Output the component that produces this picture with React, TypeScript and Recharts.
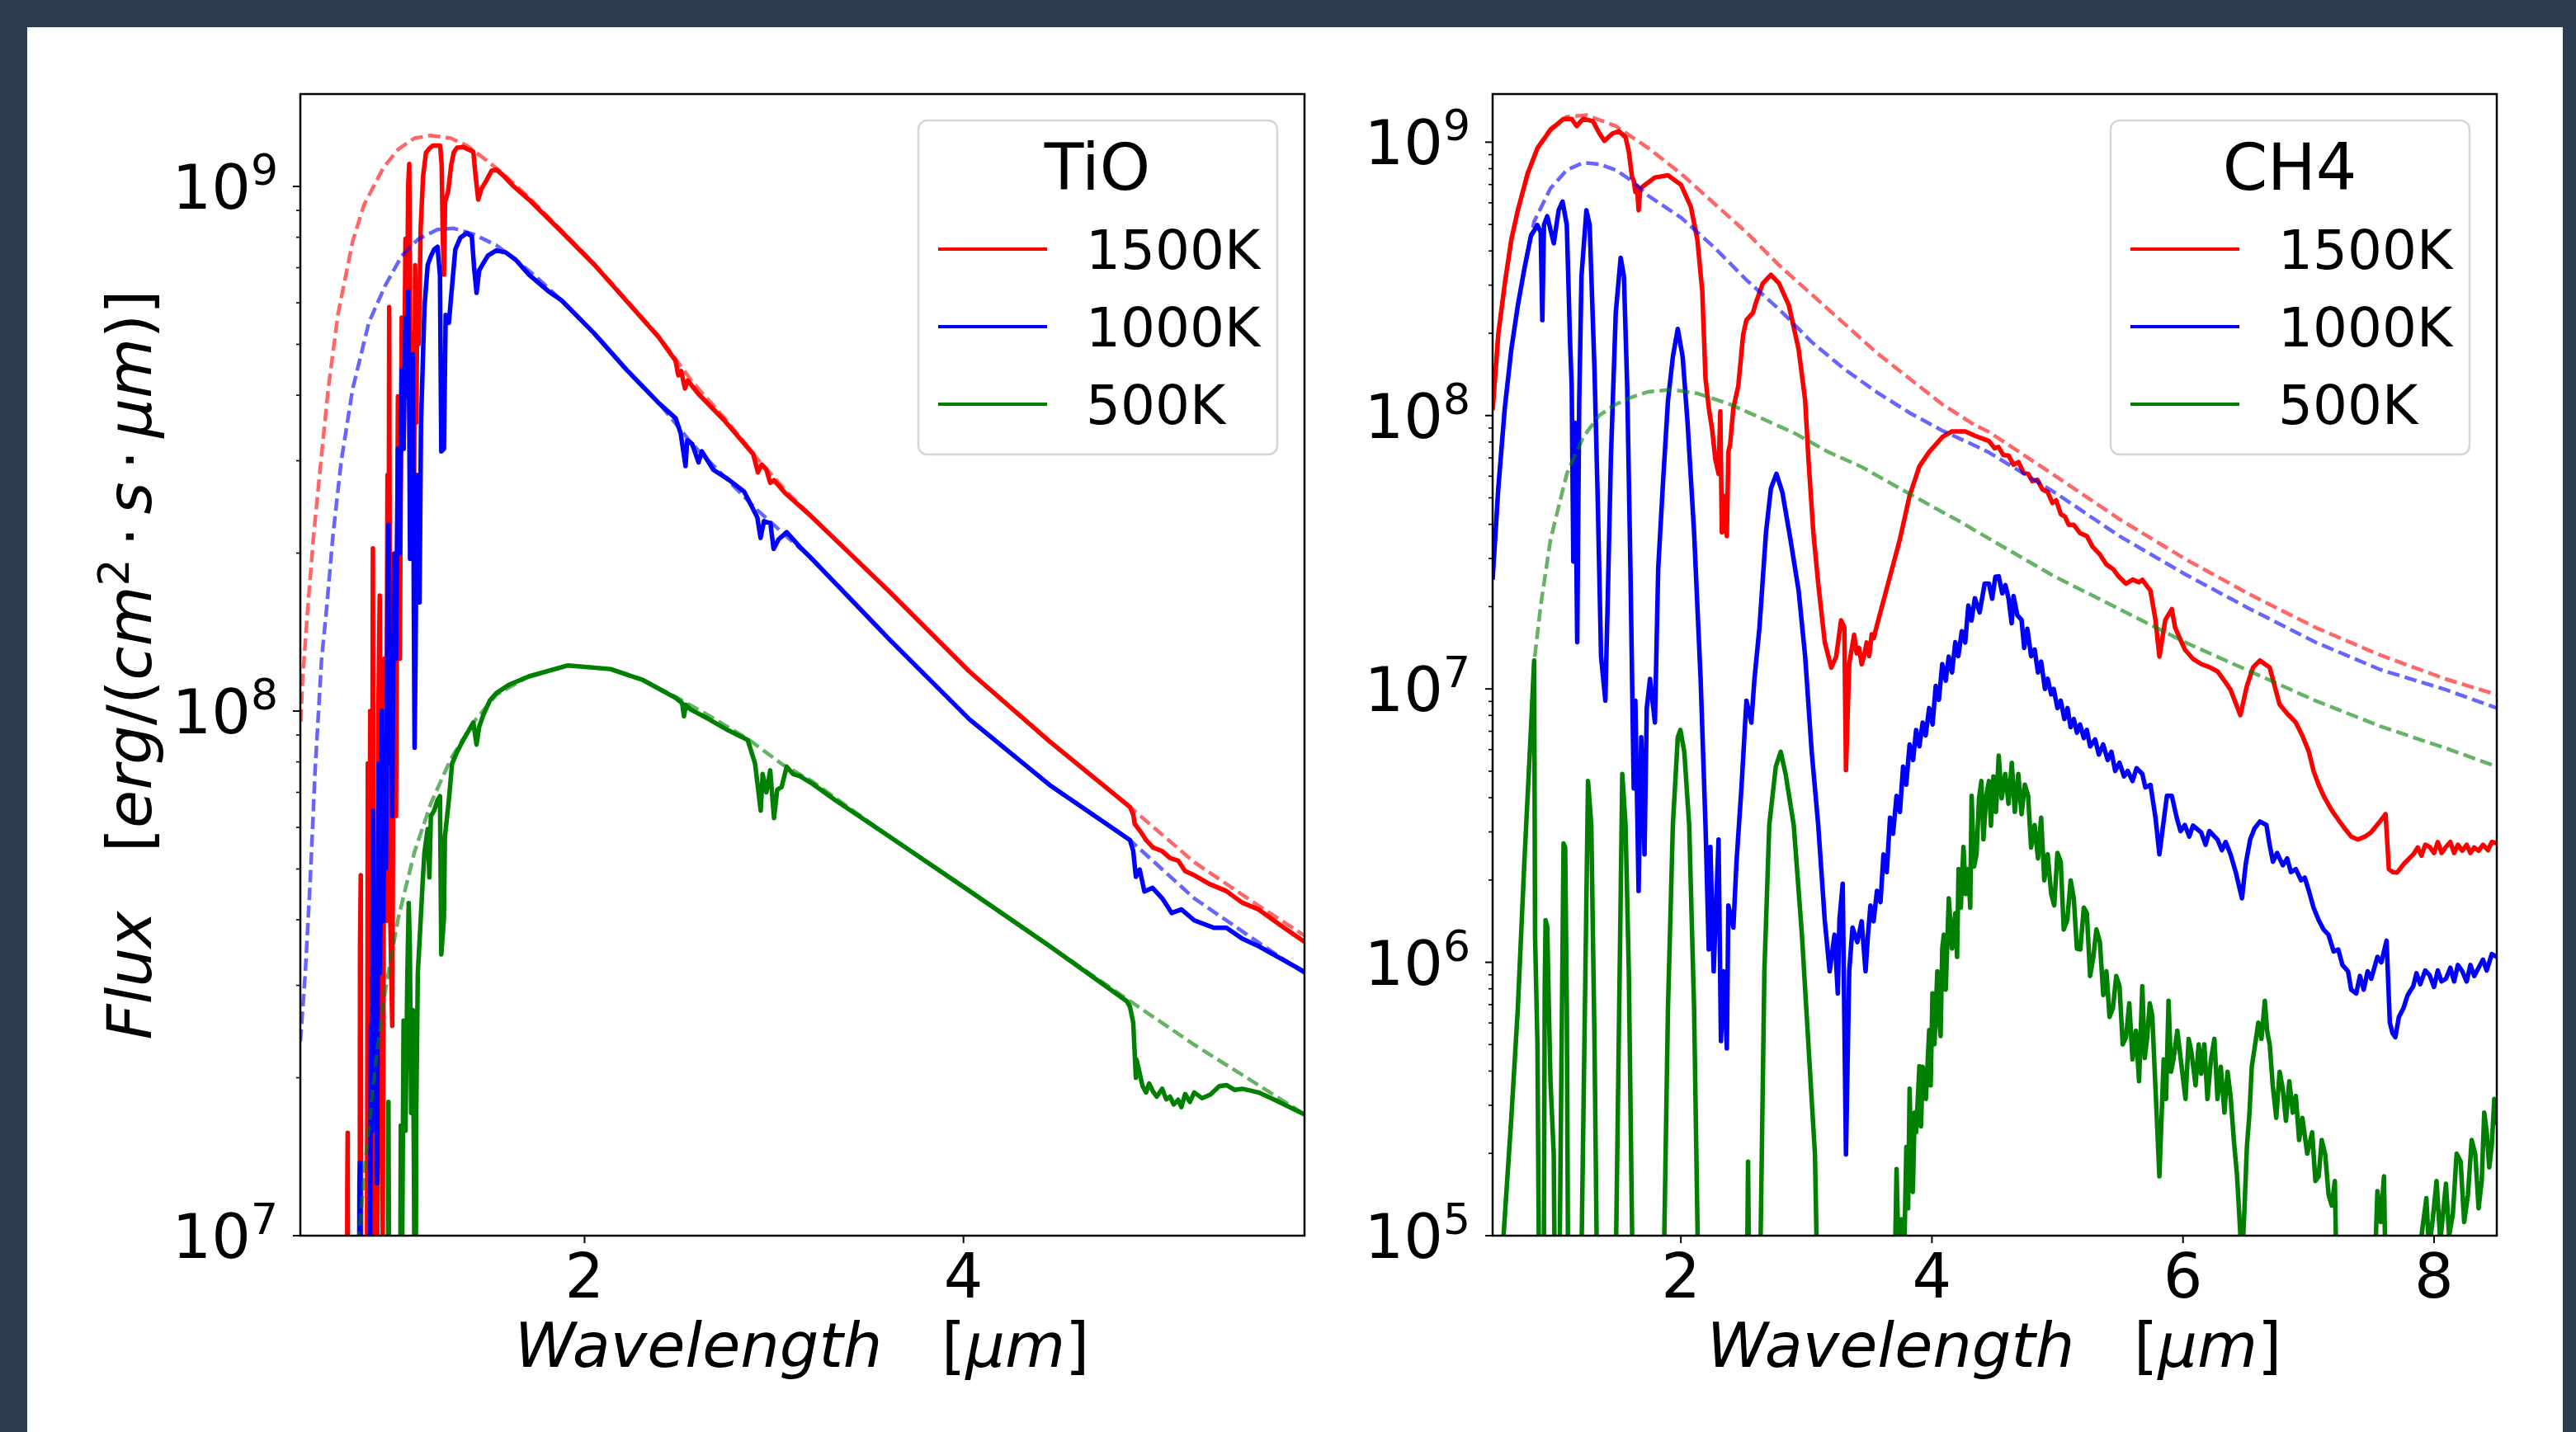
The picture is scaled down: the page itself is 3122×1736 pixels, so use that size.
import { LineChart, Line, XAxis, YAxis } from 'recharts';

// every point is [wavelength in µm, log10 of the flux]
type Pt = [number, number];

const FONT = '"DejaVu Sans", sans-serif';
const TEMPS = ['1500K', '1000K', '500K'];
const COLORS = ['#ff0000', '#0000ff', '#008000'];

// ---------- TiO panel ----------
const tioSpec1500: Pt[] = [
  [0.744, 6.5], [0.748, 7.1], [0.75, 7.196], [0.753, 6.5],
  [0.812, 6.5], [0.815, 7.55], [0.819, 7.687], [0.822, 6.5],
  [0.85, 6.5], [0.856, 7.9], [0.862, 7.4], [0.869, 8.0], [0.876, 7.1], [0.883, 8.31], [0.889, 6.9],
  [0.905, 6.8], [0.912, 8.0], [0.919, 8.22], [0.926, 7.3],
  [0.935, 7.0], [0.944, 8.1], [0.952, 7.6], [0.96, 8.45], [0.965, 7.9], [0.969, 8.77], [0.975, 7.6],
  [0.985, 7.4], [0.995, 8.3], [1.005, 7.8], [1.015, 8.6], [1.025, 8.1], [1.035, 8.75], [1.045, 8.5],
  [1.055, 8.9], [1.062, 8.65], [1.069, 9.0], [1.075, 9.043], [1.081, 8.6],
  [1.088, 8.3], [1.094, 8.72], [1.1, 8.4], [1.106, 8.85], [1.112, 8.55], [1.118, 8.8], [1.125, 8.7],
  [1.135, 8.92], [1.148, 9.02], [1.163, 9.064], [1.18, 9.072], [1.2, 9.078], [1.238, 9.078],
  [1.246, 9.04], [1.252, 8.9], [1.258, 8.832], [1.264, 8.97], [1.28, 8.99], [1.296, 9.04], [1.31, 9.065],
  [1.327, 9.074], [1.36, 9.075], [1.39, 9.07], [1.413, 9.066], [1.425, 9.02], [1.439, 8.975],
  [1.455, 8.995], [1.48, 9.01], [1.51, 9.03], [1.534, 9.032], [1.568, 9.022], [1.62, 9.002],
  [1.706, 8.975], [1.878, 8.914], [2.051, 8.851], [2.223, 8.781], [2.395, 8.711], [2.48, 8.668],
  [2.495, 8.64], [2.51, 8.648], [2.53, 8.615], [2.545, 8.63], [2.6, 8.605], [2.74, 8.553],
  [2.89, 8.49], [2.915, 8.455], [2.935, 8.47], [2.96, 8.46], [2.98, 8.435], [3.0, 8.44], [3.06, 8.415],
  [3.2, 8.37], [3.608, 8.228], [4.032, 8.075], [4.455, 7.942], [4.879, 7.817], [4.896, 7.803],
  [4.904, 7.785], [4.935, 7.77], [4.964, 7.754], [5.0, 7.74], [5.049, 7.733], [5.09, 7.72],
  [5.133, 7.715], [5.17, 7.695], [5.218, 7.687], [5.3, 7.67], [5.387, 7.657], [5.47, 7.635],
  [5.557, 7.622], [5.68, 7.59], [5.8, 7.56],
];
const tioBb1500: Pt[] = [
  [0.502, 7.98], [0.512, 8.06], [0.538, 8.19], [0.569, 8.33], [0.607, 8.47], [0.646, 8.61],
  [0.698, 8.755], [0.776, 8.895], [0.836, 8.965], [0.939, 9.036], [1.017, 9.071], [1.103, 9.092],
  [1.189, 9.097], [1.293, 9.092], [1.379, 9.078], [1.482, 9.05], [1.568, 9.025], [1.706, 8.979],
  [1.878, 8.916], [2.051, 8.853], [2.223, 8.783], [2.395, 8.713], [2.568, 8.628], [2.74, 8.558],
  [2.912, 8.481], [3.085, 8.411], [3.202, 8.37], [3.608, 8.228], [4.032, 8.075], [4.455, 7.942],
  [4.879, 7.817], [5.218, 7.712], [5.557, 7.629], [5.8, 7.572],
];
const tioSpec1000: Pt[] = [
  [0.808, 6.5], [0.812, 7.1], [0.815, 7.139], [0.818, 6.5],
  [0.865, 6.5], [0.872, 7.4], [0.878, 7.2], [0.883, 7.81], [0.89, 7.3], [0.898, 7.6], [0.905, 7.1],
  [0.912, 7.9], [0.92, 7.5], [0.93, 8.0], [0.938, 7.6], [0.945, 7.95], [0.952, 7.7], [0.96, 8.2],
  [0.965, 8.355], [0.97, 7.9], [0.978, 8.1], [0.985, 7.8], [0.995, 8.3], [1.005, 8.1], [1.015, 8.5],
  [1.025, 8.3], [1.035, 8.65], [1.045, 8.5], [1.055, 8.75], [1.062, 8.6], [1.069, 8.8], [1.075, 8.55],
  [1.079, 8.29], [1.085, 8.5], [1.094, 8.68], [1.099, 8.2], [1.103, 7.93], [1.108, 8.1], [1.115, 8.45],
  [1.122, 8.3], [1.129, 8.207], [1.137, 8.55], [1.155, 8.769], [1.172, 8.85], [1.189, 8.867],
  [1.206, 8.88], [1.224, 8.885], [1.237, 8.83], [1.244, 8.495], [1.258, 8.5], [1.267, 8.755],
  [1.284, 8.74], [1.301, 8.811], [1.318, 8.88], [1.344, 8.902], [1.379, 8.911], [1.405, 8.905],
  [1.417, 8.846], [1.43, 8.797], [1.444, 8.84], [1.465, 8.853], [1.49, 8.868], [1.534, 8.878],
  [1.585, 8.874], [1.637, 8.86], [1.706, 8.832], [1.81, 8.8], [1.878, 8.783], [2.051, 8.72],
  [2.223, 8.65], [2.395, 8.586], [2.481, 8.558], [2.507, 8.53], [2.533, 8.467], [2.542, 8.516],
  [2.568, 8.509], [2.602, 8.474], [2.619, 8.495], [2.68, 8.46], [2.757, 8.442], [2.843, 8.418],
  [2.912, 8.369], [2.929, 8.33], [2.947, 8.362], [2.981, 8.358], [2.998, 8.309], [3.024, 8.327],
  [3.067, 8.341], [3.136, 8.313], [3.2, 8.29], [3.608, 8.137], [4.032, 7.984], [4.455, 7.859],
  [4.794, 7.775], [4.879, 7.754], [4.896, 7.733], [4.91, 7.684], [4.93, 7.698], [4.955, 7.656],
  [4.998, 7.663], [5.049, 7.643], [5.099, 7.615], [5.15, 7.622], [5.218, 7.601], [5.32, 7.587],
  [5.388, 7.587], [5.472, 7.566], [5.557, 7.552], [5.8, 7.503],
];
const tioBb1000: Pt[] = [
  [0.5, 7.37], [0.51, 7.42], [0.526, 7.5], [0.552, 7.676], [0.578, 7.887], [0.612, 8.098],
  [0.638, 8.193], [0.672, 8.334], [0.715, 8.474], [0.776, 8.614], [0.862, 8.741], [0.948, 8.811],
  [1.034, 8.867], [1.12, 8.899], [1.224, 8.918], [1.31, 8.92], [1.413, 8.909], [1.534, 8.888],
  [1.637, 8.86], [1.741, 8.829], [1.878, 8.783], [2.051, 8.72], [2.223, 8.65], [2.395, 8.586],
  [2.568, 8.509], [2.74, 8.446], [2.912, 8.383], [3.085, 8.327], [3.202, 8.29], [3.608, 8.137],
  [4.032, 7.984], [4.455, 7.859], [4.879, 7.754], [5.218, 7.643], [5.557, 7.559], [5.8, 7.5],
];
const tioSpec500: Pt[] = [
  [0.96, 6.5], [0.965, 7.255], [0.972, 6.5], [1.025, 6.5], [1.03, 7.21], [1.038, 7.0], [1.045, 7.41],
  [1.055, 7.2], [1.065, 7.5], [1.072, 7.634], [1.078, 7.55], [1.085, 7.234], [1.094, 7.43], [1.1, 7.1],
  [1.106, 6.5], [1.112, 7.24], [1.12, 7.5], [1.129, 7.56], [1.146, 7.676], [1.155, 7.73], [1.172, 7.775],
  [1.181, 7.683], [1.189, 7.8], [1.206, 7.81], [1.224, 7.83], [1.237, 7.838], [1.244, 7.536],
  [1.258, 7.606], [1.263, 7.76], [1.284, 7.831], [1.301, 7.9], [1.327, 7.922], [1.362, 7.946],
  [1.413, 7.978], [1.43, 7.936], [1.444, 7.97], [1.465, 7.992], [1.5, 8.02], [1.534, 8.034],
  [1.6, 8.05], [1.706, 8.066], [1.913, 8.087], [2.137, 8.08], [2.309, 8.059], [2.481, 8.025],
  [2.515, 8.015], [2.525, 7.99], [2.535, 8.012], [2.56, 8.003], [2.654, 7.985], [2.76, 7.963],
  [2.861, 7.945], [2.9, 7.9], [2.93, 7.81], [2.94, 7.88], [2.96, 7.845], [2.98, 7.887], [3.0, 7.796],
  [3.017, 7.85], [3.04, 7.855], [3.067, 7.894], [3.1, 7.88], [3.136, 7.876], [3.2, 7.862],
  [3.32, 7.831], [3.608, 7.761], [4.032, 7.657], [4.455, 7.552], [4.862, 7.447], [4.879, 7.436],
  [4.896, 7.406], [4.91, 7.301], [4.913, 7.336], [4.93, 7.31], [4.945, 7.285], [4.964, 7.273],
  [4.98, 7.29], [5.0, 7.275], [5.02, 7.265], [5.049, 7.28], [5.07, 7.26], [5.09, 7.265],
  [5.11, 7.25], [5.133, 7.259], [5.15, 7.245], [5.17, 7.27], [5.195, 7.255], [5.218, 7.273],
  [5.26, 7.262], [5.303, 7.269], [5.35, 7.285], [5.388, 7.287], [5.43, 7.278], [5.472, 7.28],
  [5.557, 7.273], [5.642, 7.259], [5.8, 7.231],
];
const tioBb500: Pt[] = [
  [0.79, 6.85], [0.81, 7.002], [0.845, 7.15], [0.896, 7.325], [0.948, 7.466], [1.017, 7.606],
  [1.103, 7.732], [1.189, 7.824], [1.293, 7.908], [1.413, 7.978], [1.534, 8.031], [1.706, 8.066],
  [1.913, 8.087], [2.137, 8.08], [2.309, 8.059], [2.481, 8.027], [2.654, 7.992], [2.861, 7.947],
  [3.05, 7.897], [3.202, 7.866], [3.608, 7.761], [4.032, 7.657], [4.455, 7.552], [4.879, 7.447],
  [5.218, 7.364], [5.557, 7.287], [5.8, 7.231],
];

// ---------- CH4 panel ----------
const ch4Spec1500: Pt[] = [
  [0.5, 8.02], [0.545, 8.296], [0.597, 8.483], [0.649, 8.644], [0.701, 8.751], [0.779, 8.885],
  [0.857, 8.978], [0.961, 9.045], [1.065, 9.085], [1.13, 9.085], [1.169, 9.059], [1.221, 9.085],
  [1.299, 9.077], [1.351, 9.032], [1.39, 9.005], [1.455, 9.032], [1.507, 9.04], [1.559, 9.018],
  [1.585, 8.965], [1.611, 8.871], [1.624, 8.86], [1.637, 8.818], [1.65, 8.84], [1.663, 8.751],
  [1.676, 8.831], [1.715, 8.844], [1.793, 8.871], [1.897, 8.879], [2.001, 8.844], [2.079, 8.764],
  [2.131, 8.644], [2.17, 8.456], [2.196, 8.135], [2.222, 8.028], [2.249, 7.948], [2.274, 7.841],
  [2.3, 7.787], [2.314, 8.015], [2.326, 7.573], [2.34, 7.707], [2.353, 7.6], [2.366, 7.559],
  [2.378, 7.867], [2.392, 7.894], [2.418, 8.028], [2.457, 8.108], [2.496, 8.296], [2.522, 8.349],
  [2.574, 8.376], [2.6, 8.416], [2.652, 8.483], [2.717, 8.515], [2.782, 8.483], [2.86, 8.403],
  [2.938, 8.242], [2.99, 8.055], [3.016, 7.841], [3.055, 7.573], [3.094, 7.385], [3.146, 7.171],
  [3.198, 7.078], [3.237, 7.118], [3.276, 7.251], [3.302, 7.225], [3.315, 6.703], [3.328, 6.9],
  [3.341, 7.091], [3.38, 7.198], [3.4, 7.13], [3.42, 7.15], [3.44, 7.09], [3.458, 7.118],
  [3.48, 7.17], [3.5, 7.12], [3.52, 7.2], [3.536, 7.185], [3.56, 7.23], [3.588, 7.278],
  [3.666, 7.412], [3.744, 7.546], [3.822, 7.707], [3.9, 7.814], [3.978, 7.867], [4.082, 7.921],
  [4.16, 7.942], [4.264, 7.942], [4.342, 7.926], [4.454, 7.907], [4.5, 7.88], [4.53, 7.885],
  [4.57, 7.855], [4.61, 7.854], [4.65, 7.82], [4.69, 7.83], [4.73, 7.79], [4.766, 7.787],
  [4.8, 7.76], [4.84, 7.765], [4.88, 7.73], [4.922, 7.72], [4.96, 7.68], [4.99, 7.69],
  [5.026, 7.64], [5.06, 7.63], [5.09, 7.6], [5.13, 7.6], [5.18, 7.57], [5.234, 7.559],
  [5.28, 7.52], [5.338, 7.492], [5.39, 7.455], [5.442, 7.439], [5.49, 7.41], [5.546, 7.385],
  [5.6, 7.4], [5.65, 7.39], [5.676, 7.399], [5.741, 7.359], [5.781, 7.252], [5.812, 7.118],
  [5.859, 7.252], [5.911, 7.292], [5.937, 7.225], [5.97, 7.19], [6.015, 7.144], [6.08, 7.11],
  [6.145, 7.091], [6.21, 7.08], [6.275, 7.064], [6.33, 7.03], [6.379, 6.997], [6.457, 6.904],
  [6.509, 7.011], [6.56, 7.08], [6.613, 7.104], [6.691, 7.078], [6.769, 6.944], [6.83, 6.91],
  [6.899, 6.877], [6.95, 6.83], [7.003, 6.77], [7.04, 6.7], [7.081, 6.649], [7.13, 6.6],
  [7.185, 6.556], [7.24, 6.52], [7.289, 6.489], [7.34, 6.46], [7.393, 6.449], [7.45, 6.46],
  [7.497, 6.475], [7.56, 6.51], [7.614, 6.542], [7.64, 6.341], [7.67, 6.33], [7.705, 6.328],
  [7.76, 6.36], [7.835, 6.395], [7.87, 6.42], [7.9, 6.39], [7.93, 6.43], [7.965, 6.422],
  [8.0, 6.4], [8.03, 6.44], [8.06, 6.4], [8.095, 6.422], [8.13, 6.44], [8.16, 6.4], [8.19, 6.43],
  [8.225, 6.408], [8.26, 6.43], [8.29, 6.4], [8.32, 6.42], [8.355, 6.408], [8.39, 6.43],
  [8.43, 6.41], [8.46, 6.44], [8.5, 6.435],
];
const ch4Bb1500: Pt[] = [
  [0.5, 8.02], [0.545, 8.3], [0.597, 8.48], [0.649, 8.64], [0.701, 8.755], [0.779, 8.89],
  [0.857, 8.98], [0.961, 9.05], [1.091, 9.093], [1.247, 9.099], [1.481, 9.059], [1.741, 8.978],
  [2.001, 8.885], [2.262, 8.777], [2.522, 8.67], [2.782, 8.55], [3.042, 8.443], [3.302, 8.336],
  [3.562, 8.229], [3.822, 8.135], [4.082, 8.041], [4.342, 7.965], [4.454, 7.94], [4.974, 7.782],
  [5.494, 7.621], [6.015, 7.476], [6.535, 7.345], [7.055, 7.225], [7.575, 7.123], [8.095, 7.036],
  [8.5, 6.979],
];
const ch4Spec1000: Pt[] = [
  [0.5, 7.4], [0.545, 7.733], [0.597, 8.028], [0.649, 8.242], [0.701, 8.403], [0.753, 8.537],
  [0.805, 8.657], [0.857, 8.697], [0.883, 8.67], [0.896, 8.349], [0.909, 8.697], [0.935, 8.729],
  [0.987, 8.63], [1.026, 8.751], [1.057, 8.783], [1.091, 8.697], [1.117, 8.269], [1.13, 8.108],
  [1.143, 7.466], [1.156, 7.974], [1.174, 7.171], [1.19, 8.055], [1.208, 8.51], [1.247, 8.751],
  [1.273, 8.697], [1.312, 8.162], [1.338, 7.68], [1.364, 7.118], [1.398, 6.957], [1.416, 7.305],
  [1.442, 7.841], [1.481, 8.376], [1.52, 8.577], [1.546, 8.51], [1.572, 8.108], [1.598, 7.439],
  [1.624, 6.636], [1.637, 6.957], [1.663, 6.261], [1.684, 6.823], [1.71, 6.395], [1.728, 6.93],
  [1.754, 7.037], [1.793, 6.877], [1.819, 7.439], [1.858, 7.76], [1.897, 8.055], [1.936, 8.215],
  [1.975, 8.317], [2.014, 8.215], [2.053, 7.974], [2.105, 7.573], [2.157, 7.037], [2.196, 6.502],
  [2.222, 6.047], [2.235, 6.422], [2.261, 5.967], [2.3, 6.449], [2.319, 5.712], [2.34, 5.967],
  [2.366, 5.685], [2.378, 6.208], [2.418, 6.127], [2.443, 6.368], [2.482, 6.636], [2.522, 6.957],
  [2.561, 6.877], [2.586, 7.037], [2.626, 7.225], [2.678, 7.573], [2.717, 7.733], [2.761, 7.787],
  [2.808, 7.72], [2.873, 7.546], [2.938, 7.359], [2.99, 7.118], [3.042, 6.77], [3.094, 6.502],
  [3.146, 6.154], [3.185, 5.967], [3.224, 6.101], [3.25, 5.886], [3.263, 6.154], [3.289, 6.288],
  [3.315, 5.297], [3.341, 5.967], [3.367, 6.127], [3.406, 6.074], [3.44, 6.15], [3.471, 5.967],
  [3.49, 6.1], [3.51, 6.208], [3.535, 6.15], [3.562, 6.261], [3.59, 6.22], [3.614, 6.395],
  [3.64, 6.33], [3.666, 6.529], [3.69, 6.47], [3.718, 6.609], [3.745, 6.55], [3.77, 6.716],
  [3.795, 6.65], [3.822, 6.797], [3.85, 6.74], [3.874, 6.85], [3.9, 6.79], [3.926, 6.877],
  [3.95, 6.83], [3.978, 6.93], [4.005, 6.87], [4.03, 7.011], [4.055, 6.96], [4.082, 7.091],
  [4.11, 7.03], [4.134, 7.118], [4.16, 7.06], [4.186, 7.171], [4.21, 7.12], [4.238, 7.211],
  [4.265, 7.17], [4.29, 7.305], [4.315, 7.25], [4.342, 7.332], [4.38, 7.28], [4.42, 7.385],
  [4.454, 7.385], [4.48, 7.33], [4.505, 7.41], [4.532, 7.412], [4.56, 7.35], [4.585, 7.38],
  [4.61, 7.332], [4.635, 7.24], [4.65, 7.34], [4.68, 7.27], [4.714, 7.252], [4.735, 7.15],
  [4.76, 7.22], [4.79, 7.12], [4.818, 7.144], [4.845, 7.06], [4.87, 7.1], [4.9, 7.0],
  [4.922, 7.037], [4.95, 6.98], [4.97, 7.0], [5.0, 6.93], [5.026, 6.957], [5.055, 6.89],
  [5.08, 6.93], [5.105, 6.86], [5.13, 6.89], [5.155, 6.84], [5.18, 6.87], [5.21, 6.82],
  [5.234, 6.85], [5.26, 6.79], [5.3, 6.815], [5.33, 6.76], [5.364, 6.797], [5.4, 6.74],
  [5.43, 6.77], [5.46, 6.7], [5.494, 6.73], [5.53, 6.68], [5.56, 6.7], [5.598, 6.663],
  [5.63, 6.71], [5.676, 6.689], [5.7, 6.64], [5.741, 6.649], [5.781, 6.529], [5.812, 6.395],
  [5.872, 6.609], [5.911, 6.609], [5.95, 6.529], [5.98, 6.48], [6.015, 6.502], [6.05, 6.46],
  [6.08, 6.5], [6.145, 6.475], [6.18, 6.43], [6.21, 6.48], [6.275, 6.449], [6.31, 6.41],
  [6.34, 6.44], [6.379, 6.395], [6.42, 6.33], [6.47, 6.234], [6.5, 6.36], [6.535, 6.449],
  [6.57, 6.49], [6.613, 6.515], [6.665, 6.502], [6.69, 6.43], [6.717, 6.368], [6.75, 6.4],
  [6.795, 6.355], [6.83, 6.38], [6.86, 6.33], [6.899, 6.341], [6.94, 6.3], [6.97, 6.31],
  [7.003, 6.261], [7.04, 6.2], [7.081, 6.154], [7.12, 6.12], [7.159, 6.101], [7.2, 6.04],
  [7.237, 6.047], [7.27, 5.99], [7.315, 5.967], [7.34, 5.9], [7.38, 5.886], [7.41, 5.95],
  [7.44, 5.9], [7.471, 5.967], [7.5, 5.94], [7.549, 6.02], [7.58, 6.0], [7.622, 6.079],
  [7.648, 5.779], [7.67, 5.74], [7.692, 5.726], [7.72, 5.8], [7.757, 5.833], [7.79, 5.88],
  [7.835, 5.913], [7.86, 5.96], [7.89, 5.92], [7.93, 5.97], [7.965, 5.953], [8.0, 5.91],
  [8.03, 5.97], [8.06, 5.93], [8.095, 5.94], [8.13, 5.98], [8.16, 5.93], [8.19, 5.99],
  [8.225, 5.967], [8.26, 5.93], [8.29, 5.99], [8.32, 5.95], [8.355, 5.98], [8.39, 6.01],
  [8.42, 5.97], [8.46, 6.03], [8.5, 6.02],
];
const ch4Bb1000: Pt[] = [
  [0.5, 7.4], [0.545, 7.733], [0.597, 8.028], [0.649, 8.242], [0.701, 8.403], [0.753, 8.537],
  [0.805, 8.657], [0.831, 8.71], [0.961, 8.831], [1.091, 8.898], [1.221, 8.925], [1.351, 8.919],
  [1.481, 8.898], [1.611, 8.858], [1.741, 8.804], [2.001, 8.724], [2.262, 8.617], [2.522, 8.496],
  [2.782, 8.389], [3.042, 8.269], [3.302, 8.17], [3.562, 8.085], [3.822, 8.01], [4.082, 7.945],
  [4.342, 7.89], [4.454, 7.865], [4.974, 7.72], [5.494, 7.559], [6.015, 7.42], [6.535, 7.292],
  [7.055, 7.171], [7.575, 7.07], [8.095, 6.997], [8.5, 6.93],
];
const ch4Spec500: Pt[] = [
  [0.55, 4.5], [0.584, 4.98], [0.649, 5.431], [0.701, 5.833], [0.753, 6.368], [0.805, 6.85],
  [0.831, 7.104], [0.838, 6.1], [0.857, 5.699], [0.875, 4.5],
  [0.905, 4.5], [0.915, 5.9], [0.922, 6.154], [0.935, 6.13], [0.948, 5.833], [0.961, 5.565],
  [0.987, 5.297], [1.0, 4.5],
  [1.025, 4.5], [1.065, 6.435], [1.078, 6.42], [1.091, 5.833], [1.105, 4.5],
  [1.195, 4.5], [1.26, 6.663], [1.286, 6.502], [1.312, 5.699], [1.34, 4.5],
  [1.47, 4.5], [1.533, 6.689], [1.559, 6.502], [1.585, 5.967], [1.625, 4.5],
  [1.85, 4.5], [1.897, 5.833], [1.936, 6.502], [1.975, 6.823], [1.996, 6.85], [2.027, 6.77],
  [2.066, 6.502], [2.105, 5.833], [2.15, 4.5],
  [2.52, 4.5], [2.535, 5.271], [2.55, 4.5],
  [2.62, 4.5], [2.665, 5.967], [2.704, 6.502], [2.756, 6.716], [2.795, 6.77], [2.834, 6.689],
  [2.899, 6.502], [2.964, 6.101], [3.016, 5.699], [3.068, 5.297], [3.1, 4.5],
  [3.69, 4.5], [3.718, 5.244], [3.735, 4.9], [3.757, 5.06], [3.78, 4.95], [3.796, 5.324],
  [3.81, 5.1], [3.822, 5.538], [3.835, 5.25], [3.848, 5.16], [3.862, 5.45], [3.874, 5.378],
  [3.9, 5.62], [3.913, 5.4], [3.926, 5.618], [3.952, 5.5], [3.978, 5.752], [3.99, 5.55],
  [4.004, 5.886], [4.02, 5.7], [4.043, 5.967], [4.056, 5.8], [4.069, 5.73], [4.082, 6.05],
  [4.095, 6.101], [4.11, 5.9], [4.134, 6.234], [4.16, 6.05], [4.186, 6.18], [4.2, 6.02],
  [4.212, 6.341], [4.23, 6.2], [4.251, 6.422], [4.27, 6.25], [4.29, 6.341], [4.305, 6.2],
  [4.316, 6.609], [4.335, 6.35], [4.355, 6.395], [4.375, 6.6], [4.394, 6.663], [4.41, 6.45],
  [4.433, 6.609], [4.454, 6.663], [4.47, 6.5], [4.49, 6.68], [4.51, 6.55], [4.532, 6.756],
  [4.555, 6.6], [4.584, 6.689], [4.61, 6.58], [4.636, 6.73], [4.66, 6.55], [4.688, 6.689],
  [4.714, 6.542], [4.74, 6.65], [4.766, 6.609], [4.79, 6.42], [4.818, 6.502], [4.845, 6.38],
  [4.87, 6.529], [4.895, 6.3], [4.922, 6.395], [4.95, 6.25], [4.974, 6.208], [5.0, 6.4],
  [5.026, 6.368], [5.05, 6.12], [5.078, 6.154], [5.105, 6.3], [5.13, 6.234], [5.155, 6.05],
  [5.182, 6.047], [5.21, 6.2], [5.234, 6.18], [5.26, 5.95], [5.286, 6.02], [5.31, 6.12],
  [5.338, 6.074], [5.365, 5.88], [5.39, 5.967], [5.415, 5.8], [5.442, 5.833], [5.468, 5.95],
  [5.494, 5.913], [5.52, 5.7], [5.546, 5.726], [5.572, 5.85], [5.598, 5.645], [5.625, 5.75],
  [5.65, 5.565], [5.676, 5.913], [5.695, 5.65], [5.715, 5.726], [5.735, 5.85], [5.755, 5.806],
  [5.781, 5.538], [5.812, 5.217], [5.846, 5.645], [5.865, 5.5], [5.885, 5.859], [5.905, 5.6],
  [5.924, 5.645], [5.955, 5.75], [5.989, 5.618], [6.02, 5.5], [6.045, 5.72], [6.067, 5.672],
  [6.1, 5.55], [6.125, 5.7], [6.145, 5.592], [6.17, 5.7], [6.195, 5.5], [6.223, 5.645],
  [6.25, 5.72], [6.275, 5.5], [6.301, 5.618], [6.33, 5.45], [6.355, 5.6], [6.379, 5.511],
  [6.405, 5.35], [6.431, 5.217], [6.47, 4.9], [6.49, 5.1], [6.509, 5.324], [6.53, 5.45],
  [6.548, 5.618], [6.575, 5.7], [6.6, 5.779], [6.625, 5.72], [6.652, 5.859], [6.67, 5.75],
  [6.691, 5.699], [6.715, 5.55], [6.743, 5.431], [6.77, 5.6], [6.795, 5.538], [6.82, 5.42],
  [6.847, 5.565], [6.875, 5.45], [6.899, 5.511], [6.925, 5.35], [6.951, 5.431], [6.99, 5.3],
  [7.029, 5.378], [7.055, 5.2], [7.081, 5.217], [7.105, 5.35], [7.133, 5.297], [7.16, 5.15],
  [7.185, 5.11], [7.21, 5.2], [7.237, 4.5],
  [7.5, 4.5], [7.549, 5.163], [7.575, 5.05], [7.601, 5.217], [7.627, 4.5],
  [7.86, 4.5], [7.9, 5.0], [7.939, 5.137], [7.96, 4.95], [7.99, 5.06], [8.02, 5.2], [8.05, 4.98],
  [8.095, 5.19], [8.12, 5.0], [8.15, 5.08], [8.18, 5.3], [8.212, 5.271], [8.24, 5.05],
  [8.27, 5.15], [8.3, 5.35], [8.329, 5.297], [8.355, 5.1], [8.38, 5.2], [8.4, 5.45],
  [8.42, 5.378], [8.44, 5.25], [8.46, 5.33], [8.48, 5.5], [8.5, 5.404],
];
const ch4Bb500: Pt[] = [
  [0.584, 4.98], [0.649, 5.431], [0.701, 5.833], [0.753, 6.368], [0.805, 6.85], [0.831, 7.1],
  [0.883, 7.305], [0.961, 7.546], [1.091, 7.787], [1.221, 7.921], [1.351, 8.001], [1.481, 8.041],
  [1.611, 8.068], [1.741, 8.087], [1.923, 8.095], [2.131, 8.081], [2.392, 8.041], [2.652, 7.988],
  [2.912, 7.934], [3.172, 7.867], [3.432, 7.814], [3.692, 7.747], [3.952, 7.68], [4.212, 7.615],
  [4.454, 7.55], [4.974, 7.412], [5.494, 7.292], [6.015, 7.171], [6.535, 7.064], [7.055, 6.957],
  [7.575, 6.863], [8.095, 6.783], [8.5, 6.716],
];

const TIO_X_TICKS = [2, 4];
const CH4_X_TICKS = [2, 4, 6, 8];
const MANTISSAS = [1, 2, 3, 4, 5, 6, 7, 8, 9];
const TIO_DECADES = [7, 8];
const CH4_DECADES = [5, 6, 7, 8];

const logTicks = (decades: number[]) => [
  ...decades.flatMap((d) => MANTISSAS.map((m) => m * 10 ** d)),
  10 ** 9,
];

const rows = (pts: Pt[]) => pts.map(([w, e]) => ({ w, f: 10 ** e }));

const YTick = (props: any) => {
  const { x, y, payload } = props;
  const p = Math.log10(payload.value);
  const major = Math.abs(p - Math.round(p)) < 1e-6;
  if (!major) {
    return <line x1={x - 5} x2={x} y1={y} y2={y} stroke="#000" strokeWidth={1.6} />;
  }
  return (
    <g>
      <line x1={x - 9} x2={x} y1={y} y2={y} stroke="#000" strokeWidth={2} />
      <text x={x - 27} y={y + 27} textAnchor="end" fontFamily={FONT} fontSize={75} fill="#000">
        10
        <tspan dy={-29} fontSize={52}>
          {Math.round(p)}
        </tspan>
      </text>
    </g>
  );
};

const XTick = (props: any) => {
  const { x, y, payload } = props;
  return (
    <g>
      <line x1={x} x2={x} y1={y} y2={y + 9} stroke="#000" strokeWidth={2} />
      <text x={x} y={y + 75} textAnchor="middle" fontFamily={FONT} fontSize={75} fill="#000">
        {payload.value}
      </text>
    </g>
  );
};

interface PanelProps {
  left: number;
  width: number;
  margin: { top: number; right: number; bottom: number; left: number };
  yWidth: number;
  xDomain: [number, number];
  yDomain: [number, number];
  xTicks: number[];
  yTicks: number[];
  series: [Pt[], Pt[]][];
}

function Panel({ left, width, margin, yWidth, xDomain, yDomain, xTicks, yTicks, series }: PanelProps) {
  return (
    <div style={{ position: 'absolute', left, top: 0 }}>
      <LineChart width={width} height={1736} margin={margin}>
        <XAxis
          dataKey="w"
          type="number"
          domain={xDomain}
          ticks={xTicks}
          allowDataOverflow
          axisLine={false}
          tickLine={false}
          tickSize={0}
          tickMargin={0}
          height={160}
          interval={0}
          tick={XTick}
        />
        <YAxis
          type="number"
          scale="log"
          domain={yDomain}
          ticks={yTicks}
          allowDataOverflow
          axisLine={false}
          tickLine={false}
          tickSize={0}
          tickMargin={0}
          width={yWidth}
          interval={0}
          tick={YTick}
        />
        {series.flatMap(([spec, bb], i) => [
          <Line
            key={`s${i}`}
            data={rows(spec)}
            dataKey="f"
            type="linear"
            stroke={COLORS[i]}
            strokeWidth={5.5}
            strokeLinejoin="round"
            dot={false}
            isAnimationActive={false}
          />,
          <Line
            key={`b${i}`}
            data={rows(bb)}
            dataKey="f"
            type="linear"
            stroke={COLORS[i]}
            strokeOpacity={0.6}
            strokeWidth={4.5}
            strokeDasharray="15 6.5"
            dot={false}
            isAnimationActive={false}
          />,
        ])}
      </LineChart>
    </div>
  );
}

function LegendBox({ x, y, title }: { x: number; y: number; title: string }) {
  return (
    <g>
      <rect x={x} y={y} width={435} height={405} rx={11} fill="#fff" fillOpacity={0.8} stroke="#d6d6d6" strokeWidth={2.5} />
      <text x={x + 217} y={y + 84} textAnchor="middle" fontFamily={FONT} fontSize={78} fill="#000">
        {title}
      </text>
      {TEMPS.map((t, i) => {
        const ly = y + 156 + i * 94;
        return (
          <g key={t}>
            <line x1={x + 24} x2={x + 156} y1={ly} y2={ly} stroke={COLORS[i]} strokeWidth={4} />
            <text x={x + 203} y={ly + 24} fontFamily={FONT} fontSize={66} fill="#000">
              {t}
            </text>
          </g>
        );
      })}
    </g>
  );
}

function XTitle({ cx }: { cx: number }) {
  return (
    <text x={cx} y={1657} textAnchor="middle" fontFamily={FONT} fontSize={75} fill="#000" style={{ whiteSpace: 'pre' }}>
      <tspan fontStyle="italic">Wavelength</tspan>
      <tspan>{'   ['}</tspan>
      <tspan fontStyle="italic">μm</tspan>
      <tspan>]</tspan>
    </text>
  );
}

export default function App() {
  return (
    <div style={{ position: 'absolute', left: 0, top: 0, width: 3122, height: 1736, background: '#2d3e50', overflow: 'hidden' }}>
      <div style={{ position: 'absolute', left: 33, top: 33, width: 3073, height: 1703, background: '#fff' }} />
      <Panel
        left={0}
        width={1700}
        margin={{ top: 114, right: 119, bottom: 78, left: 164 }}
        yWidth={200}
        xDomain={[0.5, 5.8]}
        yDomain={[1e7, 1.5e9]}
        xTicks={TIO_X_TICKS}
        yTicks={logTicks(TIO_DECADES)}
        series={[
          [tioSpec1500, tioBb1500],
          [tioSpec1000, tioBb1000],
          [tioSpec500, tioBb500],
        ]}
      />
      <Panel
        left={1650}
        width={1472}
        margin={{ top: 114, right: 96, bottom: 78, left: 9 }}
        yWidth={150}
        xDomain={[0.5, 8.5]}
        yDomain={[1e5, 1.5e9]}
        xTicks={CH4_X_TICKS}
        yTicks={logTicks(CH4_DECADES)}
        series={[
          [ch4Spec1500, ch4Bb1500],
          [ch4Spec1000, ch4Bb1000],
          [ch4Spec500, ch4Bb500],
        ]}
      />
      <svg width={3122} height={1736} style={{ position: 'absolute', left: 0, top: 0, pointerEvents: 'none' }}>
        <rect x={364} y={114} width={1217} height={1384} fill="none" stroke="#000" strokeWidth={2.5} />
        <rect x={1809} y={114} width={1217} height={1384} fill="none" stroke="#000" strokeWidth={2.5} />
        <LegendBox x={1113} y={146} title="TiO" />
        <LegendBox x={2558} y={146} title="CH4" />
        <XTitle cx={972} />
        <XTitle cx={2417} />
        <text
          transform="translate(183, 806) rotate(-90)"
          textAnchor="middle"
          fontFamily={FONT}
          fontSize={75}
          fill="#000"
          style={{ whiteSpace: 'pre' }}
        >
          <tspan fontStyle="italic">Flux</tspan>
          <tspan>{'   ['}</tspan>
          <tspan fontStyle="italic">erg</tspan>
          <tspan>/(</tspan>
          <tspan fontStyle="italic">cm</tspan>
          <tspan dy={-27} fontSize={52}>2</tspan>
          <tspan dy={27}>{'\u2009·\u2009'}</tspan>
          <tspan fontStyle="italic">s</tspan>
          <tspan>{'\u2009·\u2009'}</tspan>
          <tspan fontStyle="italic">μm</tspan>
          <tspan>)]</tspan>
        </text>
      </svg>
    </div>
  );
}
